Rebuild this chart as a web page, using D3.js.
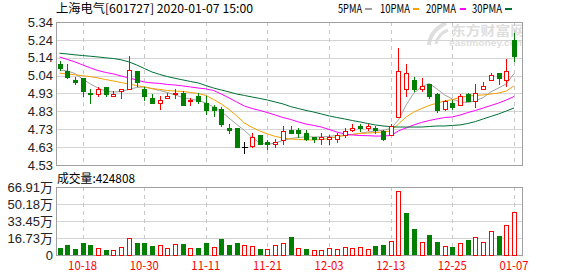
<!DOCTYPE html>
<html>
<head>
<meta charset="utf-8">
<script src="https://cdn.jsdelivr.net/npm/d3@7"></script>
<style>
  body { margin: 0; background: #fff; }
  svg { display: block; }
</style>
</head>
<body>
<div id="chart"></div>
<script>
// trading days shown
const dates = [
  "2019-10-15","2019-10-16","2019-10-17","2019-10-18","2019-10-21","2019-10-22","2019-10-23","2019-10-24","2019-10-25","2019-10-28",
  "2019-10-29","2019-10-30","2019-10-31","2019-11-01","2019-11-04","2019-11-05","2019-11-06","2019-11-07","2019-11-08","2019-11-11",
  "2019-11-12","2019-11-13","2019-11-14","2019-11-15","2019-11-18","2019-11-19","2019-11-20","2019-11-21","2019-11-22","2019-11-25",
  "2019-11-26","2019-11-27","2019-11-28","2019-11-29","2019-12-02","2019-12-03","2019-12-04","2019-12-05","2019-12-06","2019-12-09",
  "2019-12-10","2019-12-11","2019-12-12","2019-12-13","2019-12-16","2019-12-17","2019-12-18","2019-12-19","2019-12-20","2019-12-23",
  "2019-12-24","2019-12-25","2019-12-26","2019-12-27","2019-12-30","2019-12-31","2020-01-02","2020-01-03","2020-01-06","2020-01-07"
];

const opens = [5.10,5.06,5.01,5.02,4.94,4.93,4.97,4.92,4.95,4.96, 5.06,4.96,4.91,4.88,4.91,4.93,4.94,4.89,4.92,4.88,
  4.86,4.85,4.74,4.74,4.63,4.64,4.70,4.66,4.65,4.67, 4.73,4.73,4.71,4.69,4.68,4.68,4.68,4.70,4.73,4.75,
  4.74,4.74,4.72,4.70,4.80,4.96,5.01,4.96,4.99,4.93, 4.85,4.88,4.87,4.93,4.89,4.96,5.01,5.05,5.01,5.24];
const highs = [5.12,5.10,5.03,5.02,4.96,4.97,4.97,4.95,4.96,5.15, 5.06,4.97,4.93,4.92,4.94,4.96,4.95,4.91,4.94,4.92,
  4.87,4.86,4.76,4.74,4.66,4.71,4.70,4.67,4.68,4.75, 4.75,4.74,4.73,4.69,4.71,4.70,4.71,4.74,4.76,4.76,
  4.76,4.75,4.73,4.76,5.19,5.10,5.03,5.02,4.99,4.94, 4.90,4.90,4.93,4.94,4.99,5.00,5.05,5.05,5.13,5.28];
const lows = [5.07,5.02,4.99,4.92,4.88,4.92,4.92,4.92,4.91,4.96, 4.98,4.90,4.88,4.85,4.91,4.91,4.87,4.87,4.88,4.82,
  4.81,4.75,4.71,4.63,4.60,4.63,4.65,4.62,4.63,4.65, 4.71,4.69,4.67,4.66,4.65,4.65,4.66,4.69,4.72,4.72,
  4.73,4.71,4.67,4.70,4.80,4.92,4.95,4.95,4.91,4.83, 4.84,4.85,4.87,4.89,4.86,4.96,5.01,4.99,4.98,5.12];
const closes = [5.08,5.03,5.00,4.95,4.93,4.96,4.93,4.93,4.96,5.07, 5.00,4.92,4.88,4.90,4.92,4.94,4.87,4.90,4.89,4.84,
  4.84,4.76,4.73,4.63,4.63,4.69,4.65,4.65,4.66,4.72, 4.71,4.71,4.68,4.68,4.69,4.69,4.70,4.72,4.74,4.74,
  4.75,4.73,4.68,4.75,5.06,5.05,4.96,4.98,4.92,4.84, 4.89,4.86,4.92,4.89,4.94,4.98,5.04,5.02,5.06,5.15];
const volumes = [71000,101000,62000,117000,97000,68000,52000,49000,78000,166000,
  117000,117000,88000,94000,68000,107000,107000,68000,68000,117000,
  78000,159000,97000,117000,94000,88000,62000,62000,94000,114000,
  175000,68000,62000,49000,49000,68000,58000,78000,68000,78000,
  62000,91000,101000,140000,627000,412000,257000,130000,198000,130000,
  91000,81000,117000,149000,175000,130000,237000,188000,292000,424808];

const ma5 = [5.068,5.063,5.048,5.017,4.989,4.966,4.949,4.944,4.946,4.958, 4.969,4.972,4.963,4.952,4.941,4.927,4.912,4.904,4.896,4.881,
  4.859,4.833,4.796,4.760,4.726,4.686,4.655,4.646,4.655,4.669, 4.680,4.686,4.689,4.689,4.689,4.692,4.697,4.700,4.703,4.709,
  4.717,4.723,4.726,4.737,4.785,4.870,4.938,4.972,4.992,4.961, 4.927,4.904,4.887,4.884,4.893,4.912,4.944,4.966,4.989,5.048];
const ma10 = [5.050,5.046,5.041,5.036,5.031,5.023,5.014,5.006,4.997,4.989, 4.980,4.972,4.963,4.958,4.952,4.949,4.946,4.941,4.935,4.924,
  4.901,4.876,4.845,4.808,4.768,4.743,4.723,4.706,4.692,4.683, 4.677,4.675,4.672,4.672,4.675,4.680,4.689,4.697,4.703,4.709,
  4.711,4.714,4.717,4.723,4.762,4.802,4.830,4.850,4.867,4.881, 4.893,4.901,4.912,4.921,4.924,4.927,4.932,4.938,4.949,4.978];
const ma20 = [5.142,5.128,5.114,5.097,5.080,5.065,5.054,5.046,5.034,5.023, 5.012,5.000,4.995,4.992,4.986,4.983,4.978,4.972,4.966,4.961,
  4.952,4.932,4.910,4.887,4.864,4.850,4.839,4.827,4.813,4.799, 4.788,4.774,4.762,4.754,4.745,4.731,4.717,4.706,4.700,4.697,
  4.696,4.694,4.694,4.697,4.723,4.740,4.757,4.771,4.782,4.791, 4.799,4.802,4.813,4.827,4.839,4.853,4.867,4.881,4.898,4.918];
const ma30 = [5.163,5.159,5.154,5.150,5.146,5.142,5.137,5.133,5.126,5.114, 5.097,5.077,5.057,5.043,5.031,5.021,5.012,5.003,4.995,4.980,
  4.966,4.955,4.944,4.932,4.924,4.915,4.907,4.898,4.887,4.876, 4.861,4.850,4.839,4.830,4.819,4.808,4.799,4.791,4.782,4.774,
  4.765,4.757,4.751,4.747,4.745,4.745,4.745,4.745,4.748,4.751, 4.751,4.754,4.757,4.765,4.776,4.791,4.805,4.819,4.836,4.853];

const priceDomain = [4.53, 5.34];
const priceTickLabels = ["4.53","4.63","4.73","4.83","4.93","5.04","5.14","5.24","5.34"];
const volMax = 669100;
const volTickLabels = ["0","16.73万","33.45万","50.18万","66.91万"];
const xLabelDates = ["2019-10-18","2019-10-30","2019-11-11","2019-11-21","2019-12-03","2019-12-13","2019-12-25","2020-01-07"];

const maSeries = [
  { name: "5PMA",  values: ma5,  color: "#a0a0a0", lx: 338, lw: 24, dx: 365, dw: 7 },
  { name: "10PMA", values: ma10, color: "#f5a100", lx: 380, lw: 30, dx: 413, dw: 6 },
  { name: "20PMA", values: ma20, color: "#ff00ff", lx: 426, lw: 30, dx: 460, dw: 6 },
  { name: "30PMA", values: ma30, color: "#006f36", lx: 472, lw: 30, dx: 505, dw: 7 }
];

const candles = dates.map((d, i) => ({
  date: d, open: opens[i], high: highs[i], low: lows[i], close: closes[i], vol: volumes[i],
  volUp: closes[i] >= (i > 0 ? closes[i - 1] : opens[i])
}));

// LAYOUT
const width = 578, height = 276;
const plot = { left: 56, right: 522 };
const pricePanel = { top: 22, bottom: 165 };
const volPanel = { top: 187, bottom: 255 };
const RED = "#ff0000", GREEN = "#008000";
const cjk = "'Noto Sans CJK SC', 'Liberation Sans', sans-serif";
const num = "'Liberation Sans', 'Noto Sans CJK SC', sans-serif";

const svg = d3.select("#chart").append("svg")
  .attr("width", width)
  .attr("height", height);

// scales
const x = d3.scalePoint().domain(dates).range([59.5, 514]);
const y = d3.scaleLinear().domain(priceDomain).range([pricePanel.bottom, pricePanel.top]);
const vy = d3.scaleLinear().domain([0, volMax]).range([volPanel.bottom, volPanel.top]);
const px = d => Math.round(x(d)) + 0.5;
const crisp = v => Math.round(v) + 0.5;

const priceTicks = priceTickLabels.map((t, k) => priceDomain[0] + k * (priceDomain[1] - priceDomain[0]) / (priceTickLabels.length - 1));
const volTicks = volTickLabels.map((t, k) => k * volMax / (volTickLabels.length - 1));

// watermark
svg.append("clipPath").attr("id", "plotclip")
  .append("rect").attr("x", plot.left).attr("y", pricePanel.top).attr("width", plot.right - plot.left).attr("height", 40);
const wm = svg.append("g").attr("clip-path", "url(#plotclip)");
wm.append("path").attr("d", "M429,45 Q430,31 446,23").attr("fill", "none").attr("stroke", "#dedede").attr("stroke-width", 4);
wm.append("path").attr("d", "M436,44 Q438,34 448,30").attr("fill", "none").attr("stroke", "#dedede").attr("stroke-width", 3);
wm.append("text").attr("x", 451).attr("y", 35)
  .attr("font-family", cjk).attr("font-size", 13).attr("font-weight", "bold").attr("fill", "#dedede")
  .attr("textLength", 74).attr("lengthAdjust", "spacingAndGlyphs").text("东方财富网");
wm.append("text").attr("x", 449).attr("y", 46)
  .attr("font-family", num).attr("font-size", 9).attr("font-weight", "bold").attr("fill", "#dedede")
  .attr("textLength", 76).attr("lengthAdjust", "spacingAndGlyphs").text("eastmoney.com");

// grids
function panelGrid(ticks, scale, panel) {
  const g = svg.append("g").attr("shape-rendering", "crispEdges");
  g.selectAll("line.h").data(ticks.slice(1, -1)).enter().append("line")
    .attr("x1", plot.left).attr("x2", plot.right)
    .attr("y1", d => crisp(scale(d))).attr("y2", d => crisp(scale(d)))
    .attr("stroke", "#d4d4d4");
  g.selectAll("line.v").data(xLabelDates).enter().append("line")
    .attr("x1", d => px(d)).attr("x2", d => px(d))
    .attr("y1", panel.top).attr("y2", panel.bottom)
    .attr("stroke", "#c8c8c8").attr("stroke-dasharray", "4,4");
  g.append("rect")
    .attr("x", plot.left + 0.5).attr("y", panel.top + 0.5)
    .attr("width", plot.right - plot.left).attr("height", panel.bottom - panel.top)
    .attr("fill", "none").attr("stroke", "#a0a0a0");
}
panelGrid(priceTicks, y, pricePanel);
panelGrid(volTicks, vy, volPanel);

// axis labels
svg.append("g").selectAll("text").data(priceTicks).enter().append("text")
  .attr("x", 53).attr("y", d => y(d)).attr("dy", "0.36em")
  .attr("text-anchor", "end").attr("font-family", num).attr("font-size", 13).attr("fill", "#222")
  .text((d, i) => priceTickLabels[i]);

svg.append("g").selectAll("text").data(volTicks).enter().append("text")
  .attr("x", 53).attr("y", d => vy(d)).attr("dy", "0.36em")
  .attr("text-anchor", "end").attr("font-family", num).attr("font-size", 13).attr("fill", "#222")
  .text((d, i) => volTickLabels[i]);

svg.append("g").selectAll("text").data(xLabelDates).enter().append("text")
  .attr("x", d => x(d)).attr("y", 270)
  .attr("text-anchor", "middle").attr("font-family", cjk).attr("font-size", 12).attr("fill", RED)
  .attr("textLength", 29).attr("lengthAdjust", "spacingAndGlyphs")
  .text(d => d.slice(5));

// title + legend
svg.append("text").attr("x", 56).attr("y", 13)
  .attr("font-family", cjk).attr("font-size", 12).attr("fill", "#000")
  .attr("textLength", 197).attr("lengthAdjust", "spacingAndGlyphs")
  .text("上海电气[601727] 2020-01-07 15:00");

const legend = svg.append("g");
maSeries.forEach(s => {
  legend.append("text").attr("x", s.lx).attr("y", 13)
    .attr("font-family", cjk).attr("font-size", 12).attr("fill", "#000")
    .attr("textLength", s.lw).attr("lengthAdjust", "spacingAndGlyphs").text(s.name);
  legend.append("rect").attr("x", s.dx).attr("y", 8).attr("width", s.dw).attr("height", 2).attr("fill", s.color);
});

svg.append("text").attr("x", 57).attr("y", 183)
  .attr("font-family", cjk).attr("font-size", 12).attr("fill", "#000")
  .attr("textLength", 78).attr("lengthAdjust", "spacingAndGlyphs")
  .text("成交量:" + volumes[volumes.length - 1]);

// moving averages
const maG = svg.append("g");
maSeries.forEach(s => {
  const line = d3.line().x((d, i) => x(dates[i])).y(d => y(d));
  maG.append("path").datum(s.values)
    .attr("d", line).attr("fill", "none").attr("stroke", s.color).attr("stroke-width", 1);
});

// candles
const cg = svg.append("g").attr("shape-rendering", "crispEdges");
candles.forEach(d => {
  const cx = px(d.date);
  const col = d.close > d.open ? RED : d.close < d.open ? GREEN : "#000";
  cg.append("line").attr("x1", cx).attr("x2", cx)
    .attr("y1", Math.round(y(d.high))).attr("y2", Math.round(y(d.low)) + 1).attr("stroke", col);
  const top = Math.round(y(Math.max(d.open, d.close)));
  const bot = Math.round(y(Math.min(d.open, d.close)));
  if (d.close > d.open) {
    cg.append("rect").attr("x", cx - 2).attr("y", top + 0.5)
      .attr("width", 4).attr("height", Math.max(bot - top, 1))
      .attr("fill", "#fff").attr("stroke", RED);
  } else if (d.close < d.open) {
    cg.append("rect").attr("x", cx - 2.5).attr("y", top)
      .attr("width", 5).attr("height", Math.max(bot - top, 1) + 1)
      .attr("fill", GREEN);
  } else {
    cg.append("line").attr("x1", cx - 3).attr("x2", cx + 3)
      .attr("y1", top + 0.5).attr("y2", top + 0.5).attr("stroke", "#000");
  }
});

// volume bars
const vg = svg.append("g").attr("shape-rendering", "crispEdges");
candles.forEach(d => {
  const cx = px(d.date);
  const top = Math.round(vy(d.vol));
  if (d.volUp) {
    vg.append("rect").attr("x", cx - 2).attr("y", top + 0.5)
      .attr("width", 4).attr("height", volPanel.bottom - top - 0.5)
      .attr("fill", "#fff").attr("stroke", RED);
  } else {
    vg.append("rect").attr("x", cx - 2.5).attr("y", top)
      .attr("width", 5).attr("height", volPanel.bottom - top)
      .attr("fill", GREEN);
  }
});
</script>
</body>
</html>
